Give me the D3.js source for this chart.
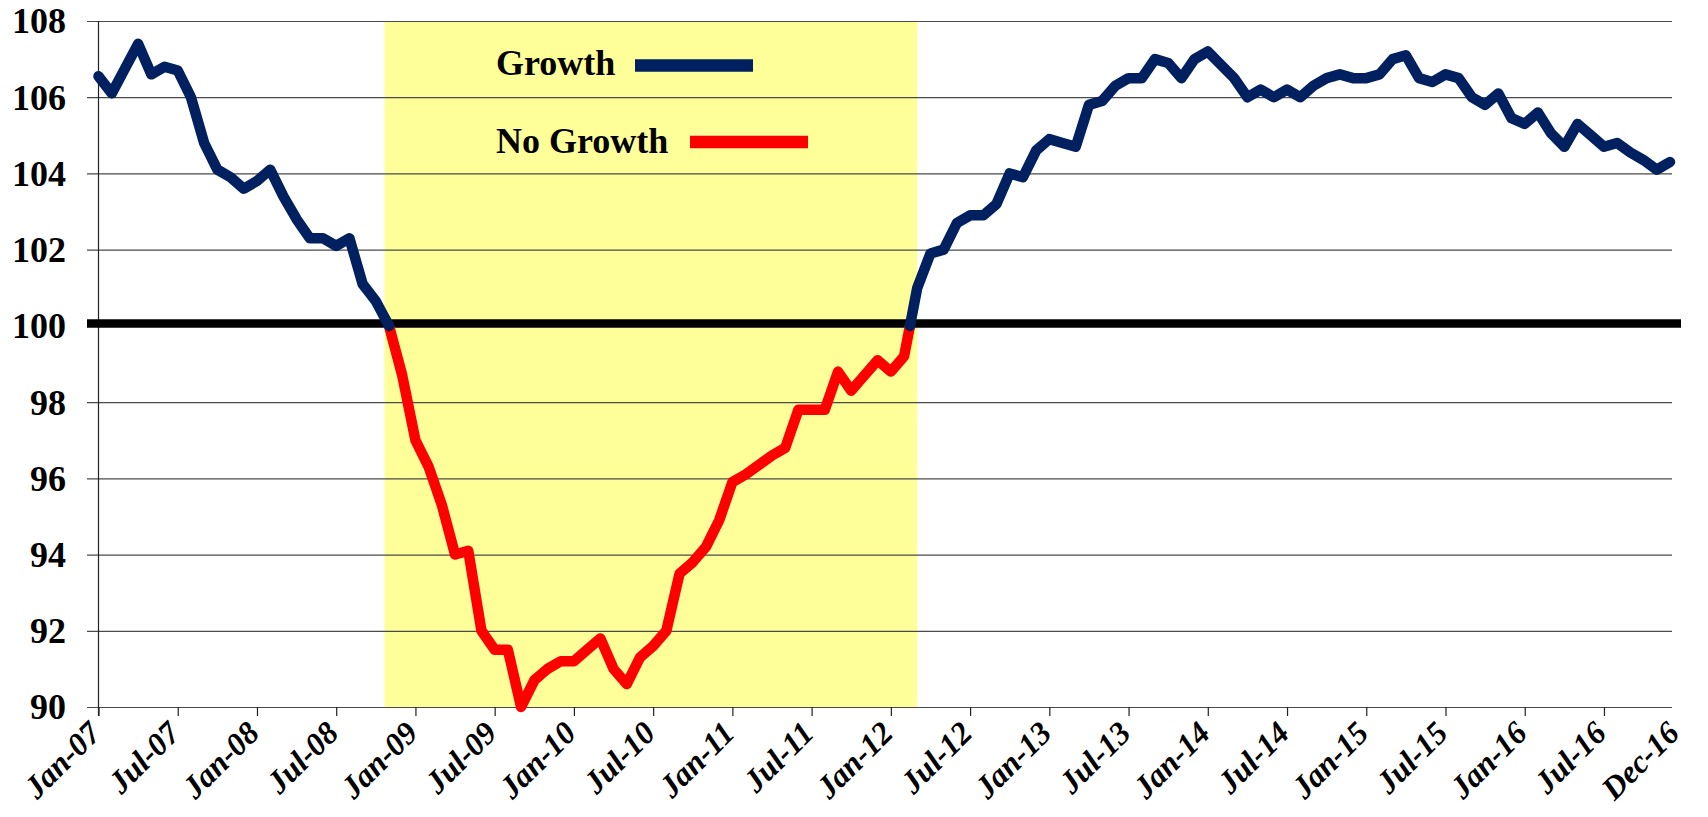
<!DOCTYPE html>
<html><head><meta charset="utf-8">
<script src="https://cdn.jsdelivr.net/npm/d3@7"></script>
<style>body{margin:0;background:#fff}svg{display:block}</style>
</head><body>
<svg id="chart" width="1708" height="817"></svg>
<script>
// ---- data (monthly index, Jan-07 .. Dec-16) ----
const values = [
 106.55,106.1,106.75,107.4,106.6,106.8,106.7,106.0,104.8,104.1,103.9,103.6,
 103.8,104.1,103.4,102.8,102.3,102.3,102.1,102.3,101.1,100.65,100.0,98.7,
 97.0,96.3,95.3,94.0,94.1,92.0,91.5,91.5,90.0,90.7,91.0,91.2,
 91.2,91.5,91.8,91.0,90.6,91.3,91.6,92.0,93.5,93.8,94.2,94.9,
 95.9,96.1,96.35,96.6,96.8,97.8,97.8,97.8,98.8,98.3,98.7,99.1,
 98.8,99.2,101.0,101.9,102.0,102.7,102.9,102.9,103.2,104.0,103.9,104.6,
 104.9,104.8,104.7,105.8,105.9,106.3,106.5,106.5,107.0,106.9,106.5,107.0,
 107.2,106.85,106.5,106.0,106.2,106.0,106.2,106.0,106.3,106.5,106.6,106.5,
 106.5,106.6,107.0,107.1,106.5,106.4,106.6,106.5,106.0,105.8,106.1,105.45,
 105.3,105.6,105.05,104.7,105.3,105.0,104.7,104.8,104.55,104.35,104.1,104.3
];
const tickLabels = ["Jan-07","Jul-07","Jan-08","Jul-08","Jan-09","Jul-09","Jan-10","Jul-10",
 "Jan-11","Jul-11","Jan-12","Jul-12","Jan-13","Jul-13","Jan-14","Jul-14","Jan-15","Jul-15",
 "Jan-16","Jul-16","Dec-16"];
const tickMonths = [0,6,12,18,24,30,36,42,48,54,60,66,72,78,84,90,96,102,108,114,119];
const yTicks = [90,92,94,96,98,100,102,104,106,108];
const baseline = 100;
const noGrowthBand = [21.65, 62.0];
const seriesNames = ["Growth","No Growth"];
const seriesColors = ["#002060","#FF0000"];

// ---- layout ----
const svg = d3.select("#chart");
const x = d3.scaleLinear().domain([0, values.length - 1]).range([98.5, 1670]);
const y = d3.scaleLinear().domain([90, 108]).range([707, 21]);
const gridLeft = 87, gridRight = 1672;
const serif = "'Liberation Serif','Times New Roman',serif";

// yellow band
svg.append("rect")
  .attr("x", x(noGrowthBand[0])).attr("y", y(108))
  .attr("width", x(noGrowthBand[1]) - x(noGrowthBand[0]))
  .attr("height", y(90) - y(108))
  .attr("fill", "#FFFF99");

// y axis with gridlines
const yAxis = svg.append("g").attr("transform", `translate(${gridLeft},0)`)
  .call(d3.axisLeft(y).tickValues(yTicks).tickSize(-(gridRight - gridLeft)).tickPadding(21).tickFormat(d3.format("d")));
yAxis.select(".domain").remove();
yAxis.selectAll(".tick line").attr("stroke", "#4a4a4a").attr("stroke-width", 1.2);
yAxis.selectAll(".tick text").attr("font-family", serif).attr("font-weight", "bold")
  .attr("font-size", 36).attr("fill", "#000").attr("dy", "0.33em");

// vertical y-axis line
svg.append("line").attr("x1", x(0)).attr("x2", x(0)).attr("y1", y(108)).attr("y2", y(90) + 9)
  .attr("stroke", "#222").attr("stroke-width", 1.2);

// x ticks
const xAxis = svg.append("g").attr("transform", `translate(0,${y(90)})`)
  .call(d3.axisBottom(x).tickValues(tickMonths.slice(0, -1)).tickSize(9).tickFormat(""));
xAxis.select(".domain").remove();
xAxis.selectAll(".tick line").attr("stroke", "#222").attr("stroke-width", 1.2);

// x labels
svg.append("g").selectAll("text").data(tickMonths).join("text")
  .attr("transform", (d, i) => `translate(${x(d) + (i === tickMonths.length - 1 ? 11 : 4)},${y(90) + 28}) rotate(-45)`)
  .attr("text-anchor", "end")
  .attr("font-family", serif).attr("font-weight", "bold").attr("font-style", "italic")
  .attr("font-size", 32).attr("fill", "#000")
  .text((d, i) => tickLabels[i]);

// thick baseline
svg.append("line").attr("x1", gridLeft).attr("x2", 1681)
  .attr("y1", y(baseline) - 2.5).attr("y2", y(baseline) - 2.5)
  .attr("stroke", "#000").attr("stroke-width", 8.5);

// split series at baseline crossings
const pts = values.map((v, i) => [i, v]);
const segs = [];
let cur = { below: pts[0][1] < baseline, pts: [pts[0]] };
for (let i = 1; i < pts.length; i++) {
  const p = pts[i], prev = pts[i - 1];
  const below = p[1] < baseline;
  if (below !== cur.below) {
    let cp;
    if (prev[1] === baseline) cp = prev;
    else { const t = (baseline - prev[1]) / (p[1] - prev[1]); cp = [prev[0] + t * (p[0] - prev[0]), baseline]; }
    if (cur.pts[cur.pts.length - 1] !== cp) cur.pts.push(cp);
    segs.push(cur);
    cur = { below, pts: [cp] };
    if (cp !== p) cur.pts.push(p);
  } else cur.pts.push(p);
}
segs.push(cur);

const line = d3.line().x(d => x(d[0])).y(d => y(d[1]));
const ordered = segs.filter(s => s.below).concat(segs.filter(s => !s.below));
svg.append("g").selectAll("path").data(ordered).join("path")
  .attr("d", s => line(s.pts))
  .attr("fill", "none")
  .attr("stroke", s => s.below ? seriesColors[1] : seriesColors[0])
  .attr("stroke-width", 10.5).attr("stroke-linejoin", "round").attr("stroke-linecap", "round");

// legend
const legend = [
  { name: seriesNames[0], color: seriesColors[0], tx: 496, ty: 75, lx1: 635, lx2: 753, ly: 65.5 },
  { name: seriesNames[1], color: seriesColors[1], tx: 496, ty: 153, lx1: 690, lx2: 808, ly: 142 }
];
const lg = svg.append("g");
lg.selectAll("text").data(legend).join("text")
  .attr("x", d => d.tx).attr("y", d => d.ty)
  .attr("font-family", serif).attr("font-weight", "bold").attr("font-size", 36).attr("fill", "#000")
  .text(d => d.name);
lg.selectAll("line").data(legend).join("line")
  .attr("x1", d => d.lx1).attr("x2", d => d.lx2).attr("y1", d => d.ly).attr("y2", d => d.ly)
  .attr("stroke", d => d.color).attr("stroke-width", 12.3);
</script>
</body></html>
